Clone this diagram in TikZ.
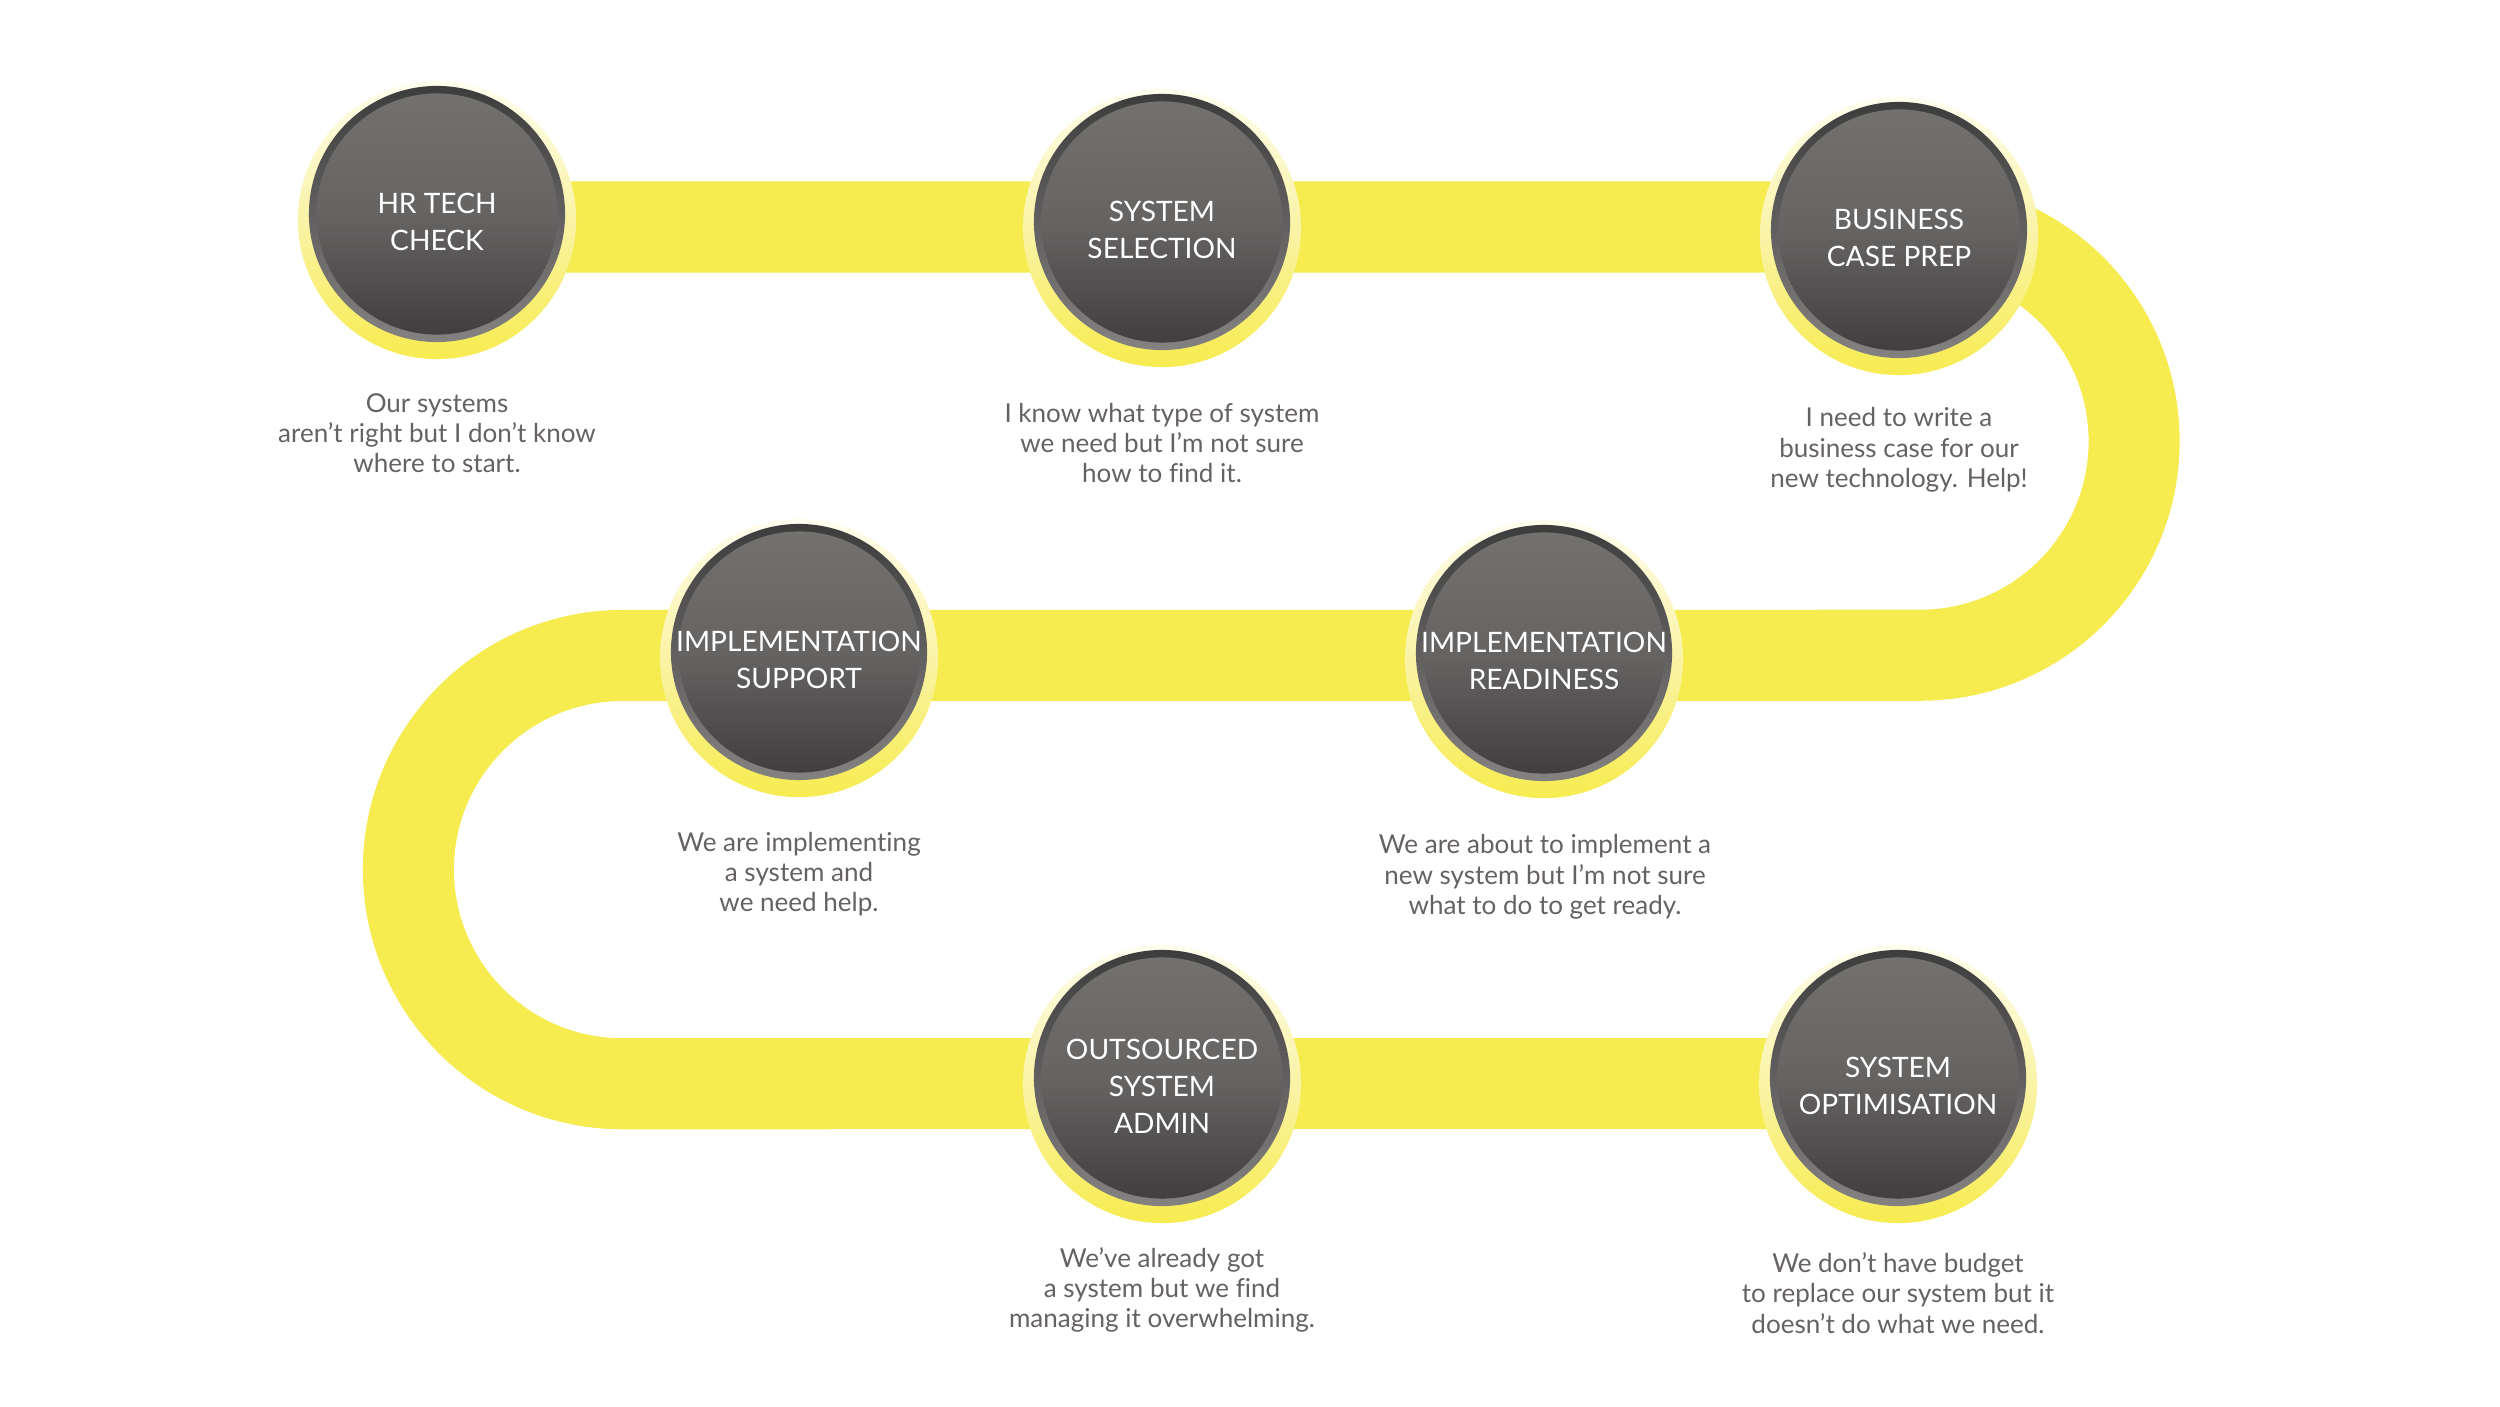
\documentclass[tikz,border=0pt]{standalone}
\usepackage{fontspec}
\setmainfont{Lato}[Ligatures=NoCommon]
\usetikzlibrary{backgrounds,calc}
\definecolor{bandyellow}{HTML}{F7EC4F}
\definecolor{ringtop}{HTML}{FFFDEE}
\definecolor{ringmid}{HTML}{FAF3A6}
\definecolor{ringbot}{HTML}{F7EC4F}
\definecolor{rimtop}{HTML}{3E3D3D}
\definecolor{rimbot}{HTML}{848281}
\definecolor{disktop}{HTML}{74726F}
\definecolor{diskmid}{HTML}{666463}
\definecolor{diskbot}{HTML}{3E3C3C}
\definecolor{desctext}{HTML}{666262}
\newcommand{\titlefont}{\fontsize{8}{10.5}\selectfont}
\newcommand{\descfont}{\fontsize{7.4}{8.6}\selectfont}
\tikzset{
  stagetitle/.style={align=center, text=white, font=\titlefont, yshift=-2.3pt, inner sep=0pt},
  stage/.style={circle, minimum size=2.56cm, inner sep=0pt, draw=none,
    top color=rimtop, bottom color=rimbot,
    path picture={\shade[top color=disktop, bottom color=diskbot, middle color=diskmid]
      (path picture bounding box.center) circle[radius=1.205cm];},
    label={[stagetitle]center:#1}},
  stagedesc/.style={align=center, text=desctext, font=\descfont, inner sep=0pt},
  pathband/.style={line width=0.91cm, draw=bandyellow},
  ringglow/.style={top color=ringtop, bottom color=ringbot, middle color=ringmid}
}
\begin{document}
\begin{tikzpicture}[x=0.01cm,y=-0.01cm]
  \useasboundingbox (0,0) rectangle (2500,1406);

  % stages
  \node[stage={HR TECH\\CHECK}] (n1) at (437,214) {};
  \node[stage={SYSTEM\\SELECTION}] (n2) at (1162,222) {};
  \node[stage={BUSINESS\\CASE PREP}] (n3) at (1899,230) {};
  \node[stage={IMPLEMENTATION\\SUPPORT}] (n4) at (799,652) {};
  \node[stage={IMPLEMENTATION\\READINESS}] (n5) at (1544,653) {};
  \node[stage={OUTSOURCED\\SYSTEM\\ADMIN}] (n6) at (1162,1078) {};
  \node[stage={SYSTEM\\OPTIMISATION}] (n7) at (1898,1078) {};

  % descriptions
  \node[stagedesc] (d1) at (437,433) {Our systems\\aren’t right but I don’t know\\where to start.};
  \node[stagedesc] (d2) at (1162,443) {I know what type of system\\we need but I’m not sure\\how to find it.};
  \node[stagedesc] (d3) at (1899,450) {I need to write a\\business case for our\\new technology. Help!};
  \node[stagedesc] (d4) at (799,874) {We are implementing\\a system and\\we need help.};
  \node[stagedesc] (d5) at (1545,877) {We are about to implement a\\new system but I’m not sure\\what to do to get ready.};
  \node[stagedesc] (d6) at (1162,1290) {We’ve already got\\a system but we find\\managing it overwhelming.};
  \node[stagedesc] (d7) at (1898,1293) {We don’t have budget\\to replace our system but it\\doesn’t do what we need.};

  % band path coordinates
  \coordinate (b1) at (437,227);
  \coordinate (rA) at (1920,227);
  \coordinate (lA) at (622.5,655.5);
  \coordinate (b7) at (1898,1083.5);

  \begin{scope}[on background layer]
    \fill[white] (0,0) rectangle (2500,1406);
    \draw[pathband] (b1) -- (rA) arc[start angle=90, end angle=-90, radius=2.14cm]
      -- (lA) arc[start angle=90, end angle=270, radius=2.14cm] -- (b7);
    \foreach \n in {n1,n2,n3,n4,n5,n6,n7}{
      \shade[ringglow] ($(\n)+(0,6)$) circle[radius=1.39cm];
    }
  \end{scope}
\end{tikzpicture}
\end{document}
